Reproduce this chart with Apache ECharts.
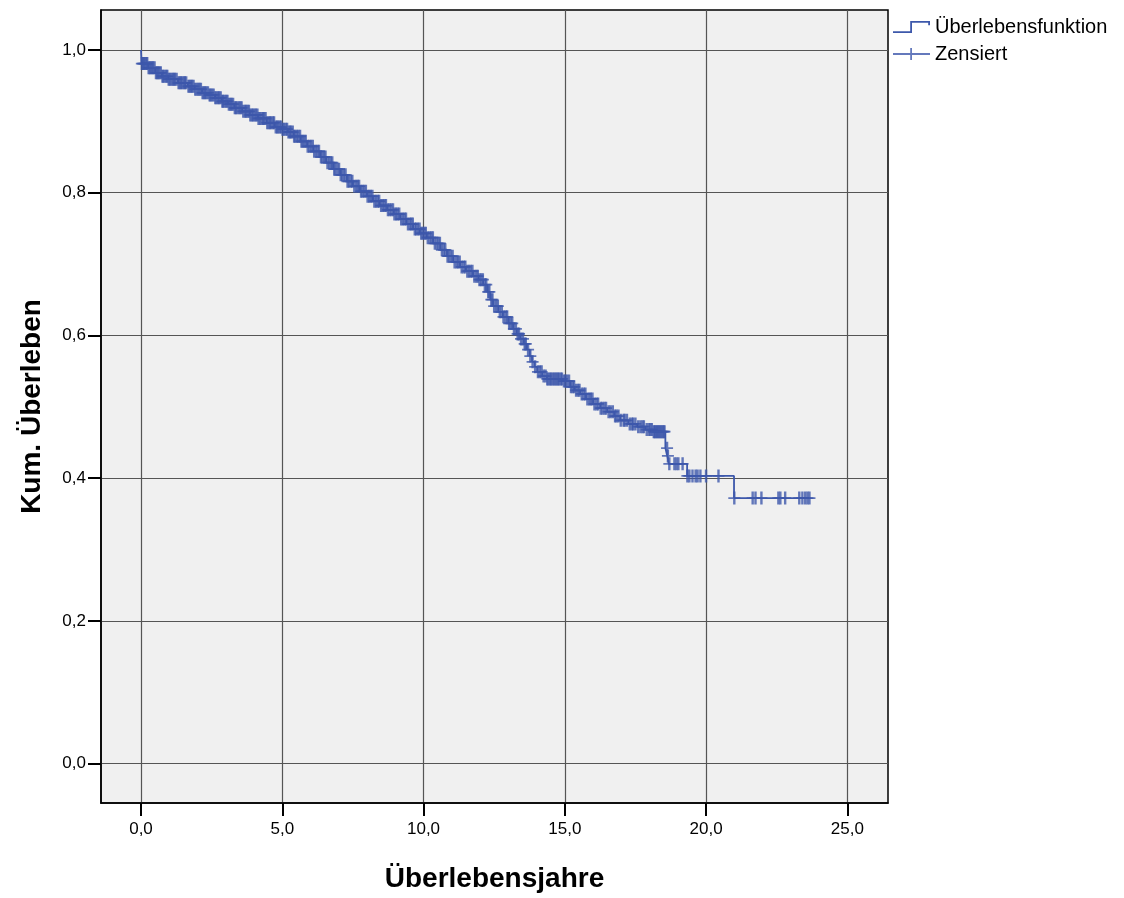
<!DOCTYPE html>
<html>
<head>
<meta charset="utf-8">
<title>Kaplan-Meier</title>
<script src="https://cdn.jsdelivr.net/npm/echarts@6/dist/echarts.min.js"></script>
<style>
  html, body { margin: 0; padding: 0; background: #fff; }
  #chart { width: 1124px; height: 898px; }
</style>
</head>
<body>
<div id="chart"></div>
<script>
// Stufen der Überlebensfunktion: [Jahre, kum. Überleben]
const survivalSteps = [
  [0, 1.0], [0.02, 0.981], [0.25, 0.975], [0.5, 0.968], [0.74, 0.963], [0.96, 0.959],
  [1.31, 0.954], [1.66, 0.949], [1.9, 0.945], [2.16, 0.940], [2.4, 0.937], [2.62, 0.933],
  [2.85, 0.928], [3.08, 0.924], [3.3, 0.919], [3.58, 0.914], [3.85, 0.909], [4.14, 0.904],
  [4.45, 0.898], [4.74, 0.892], [5.0, 0.889], [5.2, 0.885], [5.4, 0.879], [5.65, 0.872],
  [5.88, 0.865], [6.1, 0.858], [6.34, 0.850], [6.55, 0.842], [6.8, 0.833], [7.05, 0.825],
  [7.29, 0.816], [7.5, 0.809], [7.75, 0.802], [8.0, 0.795], [8.21, 0.788], [8.45, 0.782],
  [8.71, 0.776], [8.95, 0.770], [9.17, 0.763], [9.4, 0.756], [9.63, 0.749], [9.87, 0.743],
  [10.12, 0.737], [10.34, 0.729], [10.6, 0.720], [10.83, 0.711], [11.05, 0.703], [11.29, 0.696],
  [11.5, 0.690], [11.75, 0.683], [11.95, 0.678], [12.11, 0.671], [12.25, 0.661], [12.36, 0.650],
  [12.46, 0.641], [12.65, 0.633], [12.81, 0.626], [13.0, 0.617], [13.17, 0.609], [13.3, 0.602],
  [13.42, 0.595], [13.55, 0.588], [13.66, 0.580], [13.76, 0.571], [13.84, 0.563], [13.93, 0.556],
  [14.02, 0.549], [14.2, 0.543], [14.37, 0.539], [14.94, 0.536], [15.19, 0.528], [15.35, 0.523],
  [15.54, 0.518], [15.75, 0.511], [16.0, 0.504], [16.25, 0.498], [16.5, 0.493], [16.75, 0.487],
  [16.96, 0.481], [17.25, 0.476], [17.56, 0.472], [17.85, 0.468], [18.12, 0.465], [18.56, 0.442],
  [18.63, 0.431], [18.68, 0.420], [19.33, 0.403], [20.99, 0.372], [23.66, 0.372]
]

// Zensierte Fälle (Jahre)
const censoredTimes = [
  0.03, 0.07, 0.1, 0.14, 0.19, 0.22, 0.27, 0.31, 0.35, 0.4, 0.43, 0.48, 0.53, 0.57, 0.61, 0.65,
  0.7, 0.76, 0.79, 0.84, 0.9, 0.93, 0.98,
  1.02, 1.08, 1.12, 1.17, 1.2, 1.26, 1.33, 1.37, 1.42, 1.46, 1.52, 1.55, 1.6, 1.68, 1.72, 1.77,
  1.81, 1.86, 1.92, 1.97,
  2.03, 2.07, 2.12, 2.18, 2.22, 2.27, 2.31, 2.37, 2.43, 2.46, 2.52, 2.57, 2.63, 2.67, 2.73, 2.77,
  2.82, 2.88, 2.91, 2.96,
  3.02, 3.06, 3.11, 3.17, 3.2, 3.26, 3.32, 3.36, 3.41, 3.47, 3.52, 3.56, 3.62, 3.68, 3.72, 3.77,
  3.82, 3.87, 3.92, 3.97,
  4.02, 4.07, 4.12, 4.16, 4.21, 4.27, 4.32, 4.36, 4.41, 4.47, 4.52, 4.57, 4.61, 4.67, 4.71, 4.77,
  4.82, 4.86, 4.91, 4.96,
  5.01, 5.06, 5.12, 5.17, 5.22, 5.27, 5.31, 5.37, 5.42, 5.46, 5.52, 5.57, 5.63, 5.68, 5.72, 5.78,
  5.83, 5.9, 5.96,
  6.02, 6.08, 6.13, 6.19, 6.25, 6.3, 6.37, 6.42, 6.48, 6.53, 6.6, 6.66, 6.72, 6.77, 6.84, 6.88, 6.95,
  7.01, 7.07, 7.12, 7.18, 7.24, 7.31, 7.36, 7.43, 7.48, 7.55, 7.62, 7.67, 7.72, 7.79, 7.84, 7.9, 7.96,
  8.02, 8.08, 8.13, 8.19, 8.26, 8.32, 8.38, 8.43, 8.5, 8.56, 8.62, 8.67, 8.74, 8.8, 8.86, 8.92, 8.97,
  9.03, 9.08, 9.14, 9.21, 9.27, 9.33, 9.38, 9.45, 9.52, 9.57, 9.62, 9.69, 9.74, 9.8, 9.86, 9.92, 9.97,
  10.03, 10.08, 10.15, 10.22, 10.28, 10.33, 10.4, 10.47, 10.53, 10.58, 10.65, 10.72, 10.77, 10.85,
  10.9, 10.97,
  11.03, 11.1, 11.17, 11.22, 11.28, 11.35, 11.42, 11.48, 11.55, 11.61, 11.67, 11.73, 11.8, 11.87,
  11.92, 11.98,
  12.04, 12.1, 12.17, 12.22, 12.29, 12.33, 12.4, 12.44, 12.5, 12.57, 12.63, 12.7, 12.77, 12.83,
  12.9, 12.96,
  13.03, 13.08, 13.14, 13.2, 13.27, 13.33, 13.38, 13.45, 13.52, 13.58, 13.62, 13.7, 13.78, 13.86, 13.95,
  14.05, 14.12, 14.18, 14.25, 14.32, 14.38, 14.42, 14.48, 14.52, 14.57, 14.62, 14.67, 14.71, 14.76,
  14.8, 14.86, 14.9, 14.97,
  15.02, 15.08, 15.15, 15.22, 15.28, 15.33, 15.4, 15.47, 15.52, 15.6, 15.67, 15.73, 15.8, 15.87,
  15.92, 15.98,
  16.05, 16.12, 16.18, 16.27, 16.33, 16.4, 16.46, 16.55, 16.62, 16.7, 16.78, 16.83, 16.9, 16.98,
  17.08, 17.12, 17.2, 17.3, 17.38, 17.42, 17.5, 17.6, 17.68, 17.75, 17.8, 17.9, 17.98,
  18.03, 18.08, 18.15, 18.18, 18.22, 18.26, 18.3, 18.34, 18.38, 18.42, 18.46, 18.5, 18.53,
  18.62, 18.65, 18.7, 18.88, 18.95, 19.02, 19.17, 19.34, 19.41, 19.52, 19.63, 19.7, 19.8, 20.0,
  20.44, 21.0, 21.65, 21.75, 21.96, 22.56, 22.63, 22.8, 23.3, 23.41, 23.51, 23.59, 23.66
]

const xTicks = [0, 5, 10, 15, 20, 25]
const yTicks = [0, 0.2, 0.4, 0.6, 0.8, 1.0]

const seriesNames = ['Überlebensfunktion', 'Zensiert']

const BLUE = '#3d58ab'
const FONT = '"Liberation Sans", Arial, sans-serif'

// Überlebenswert zum Zeitpunkt t aus der Stufenfunktion
function survivalAt (t) {
  let s = survivalSteps[0][1]
  for (const [time, value] of survivalSteps) {
    if (time <= t) s = value
    else break
  }
  return s
}

const censoredPoints = censoredTimes.map(t => [t, survivalAt(t)])

const fmt = v => v.toFixed(1).replace('.', ',')

const stepIcon = 'path://M0,10.2H17.2V0H37V4.2H35.2V1.8H19V12H0Z'
const crossIcon = 'path://M0,5.1H17.2V0H19V5.1H37V6.9H19V12H17.2V6.9H0Z'
const plusSymbol = 'path://M4.8,0H7.2V5.2H12V6.8H7.2V12H4.8V6.8H0V5.2H4.8Z'

const axisCommon = {
  axisLine: { show: true, onZero: false, lineStyle: { color: '#000', width: 1.5 } },
  axisTick: { show: true, length: 13, lineStyle: { color: '#000', width: 2 } },
  splitLine: { show: true, lineStyle: { color: '#555', width: 1.2 } },
  nameTextStyle: { fontFamily: FONT, fontSize: 28, fontWeight: 'bold', color: '#000' }
}

const options = {
  animation: false,
  backgroundColor: '#fff',
  grid: {
    left: 101, right: 236, top: 10, bottom: 94,
    show: true, backgroundColor: '#f0f0f0', borderColor: '#000', borderWidth: 1.5
  },
  legend: {
    orient: 'vertical',
    left: 893,
    top: 17,
    padding: 0,
    itemWidth: 37,
    itemHeight: 13,
    itemGap: 7,
    textStyle: { fontFamily: FONT, fontSize: 20, color: '#000' },
    data: [
      { name: seriesNames[0], icon: stepIcon },
      { name: seriesNames[1], icon: crossIcon }
    ]
  },
  xAxis: {
    ...axisCommon,
    type: 'value',
    min: -1.416,
    max: 26.44,
    name: 'Überlebensjahre',
    nameLocation: 'middle',
    nameGap: 62,
    axisTick: { ...axisCommon.axisTick, customValues: xTicks },
    axisLabel: {
      customValues: xTicks, formatter: fmt, margin: 18,
      fontFamily: FONT, fontSize: 17, color: '#000'
    }
  },
  yAxis: {
    ...axisCommon,
    type: 'value',
    min: -0.0553,
    max: 1.056,
    name: 'Kum. Überleben',
    nameLocation: 'middle',
    nameGap: 55,
    axisTick: { ...axisCommon.axisTick, customValues: yTicks },
    axisLabel: {
      customValues: yTicks, formatter: fmt, margin: 15,
      fontFamily: FONT, fontSize: 17, color: '#000'
    }
  },
  series: [
    {
      name: seriesNames[0],
      type: 'line',
      step: 'end',
      symbol: 'none',
      data: survivalSteps,
      color: BLUE,
      lineStyle: { color: BLUE, width: 1.8 },
      z: 3
    },
    {
      name: seriesNames[1],
      type: 'scatter',
      symbol: plusSymbol,
      symbolSize: [12, 13],
      data: censoredPoints,
      color: BLUE,
      itemStyle: { color: BLUE },
      z: 4
    }
  ]
}

const chart = echarts.init(document.getElementById('chart'), null, { renderer: 'canvas' })
chart.setOption(options)
</script>
</body>
</html>
